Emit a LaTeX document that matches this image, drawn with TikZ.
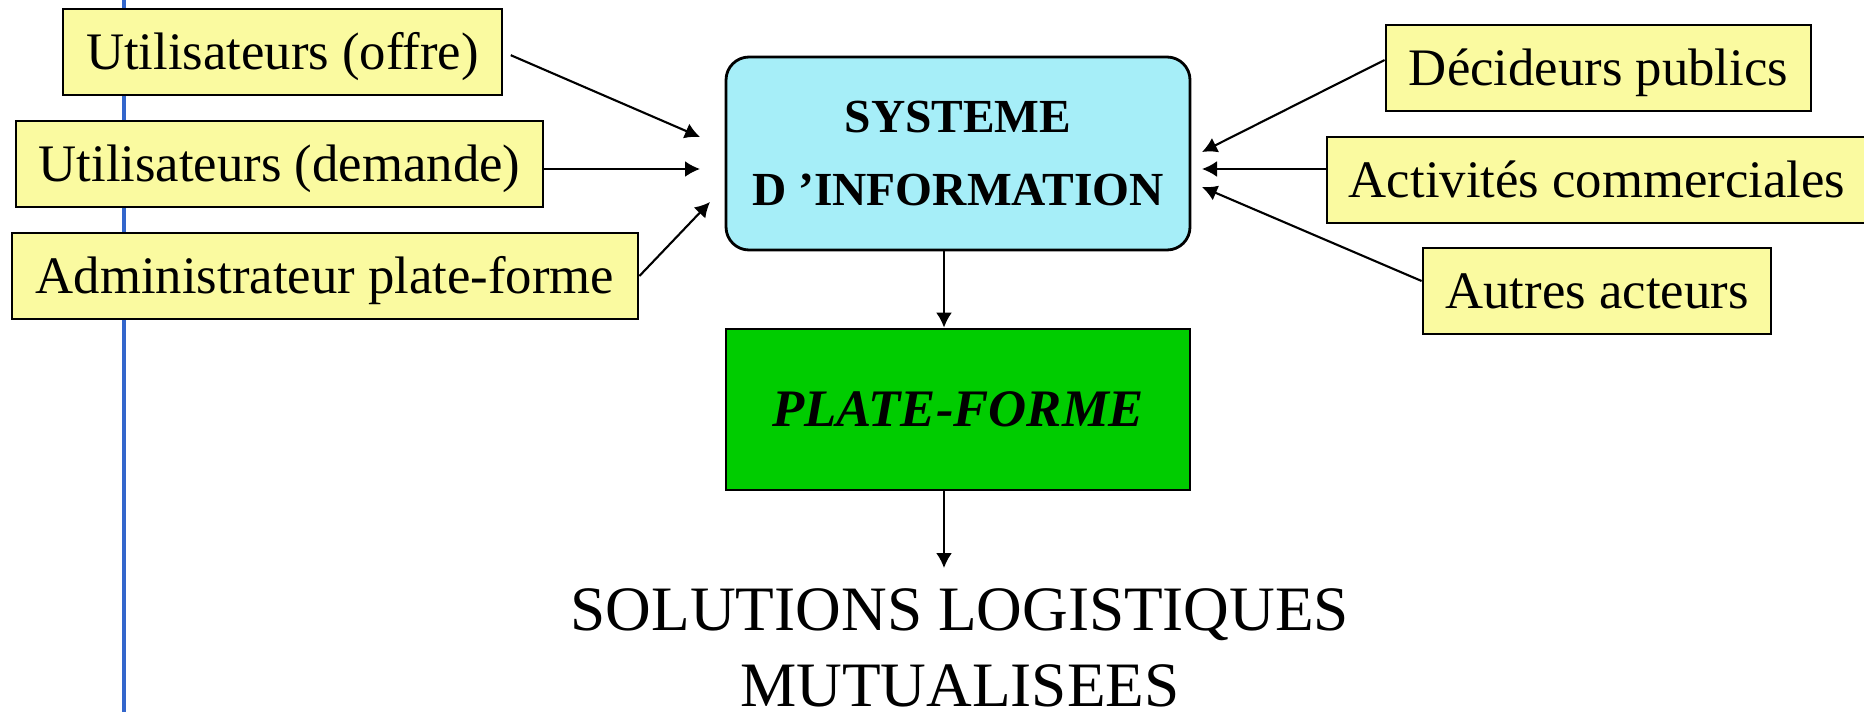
\documentclass[tikz,border=0pt]{standalone}
\usepackage{fontspec}
\setmainfont{Liberation Serif}
\usetikzlibrary{arrows.meta}
\definecolor{boxyellow}{RGB}{250,250,160}
\definecolor{sicyan}{RGB}{166,238,248}
\definecolor{pfgreen}{RGB}{0,204,0}
\definecolor{lineblue}{RGB}{51,102,204}
\tikzset{
  actor/.style={draw, line width=0.8pt, fill=boxyellow, minimum height=8.6mm, inner xsep=0pt,
                text height=10pt, text depth=0pt, font=\fontsize{15}{18}\selectfont},
  flow/.style={-{Latex[length=1.5mm,width=1.6mm]}, line width=0.6pt},
}

\begin{document}
\begin{tikzpicture}[x=0.1mm,y=-0.1mm]
  \useasboundingbox (0,0) rectangle (1864,712);
  \draw[lineblue, line width=1pt] (124,0) -- (124,712);

  \node[actor, minimum width=43.9mm] (U1) at (282.5,52) {Utilisateurs (offre)};
  \node[actor, minimum width=52.7mm] (U2) at (279.5,164) {Utilisateurs (demande)};
  \node[actor, minimum width=62.6mm] (U3) at (325,276) {Administrateur plate-forme};

  \node[actor, minimum width=42.5mm] (R1) at (1598.5,68) {Décideurs publics};
  \node[actor, minimum width=54mm] (R2) at (1597,180) {Activités commerciales};
  \node[actor, minimum width=34.8mm] (R3) at (1597,291) {Autres acteurs};

  \node[draw, line width=0.8pt, fill=sicyan, rounded corners=2.3mm, minimum width=46.4mm, minimum height=19.3mm,
        align=center, font=\fontsize{13.5}{21}\selectfont\bfseries] (SI) at (958,153.5) {SYSTEME\\D 'INFORMATION};
  \node[draw, line width=0.8pt, fill=pfgreen, minimum width=46.4mm, minimum height=16.1mm,
        font=\fontsize{15}{18}\selectfont\bfseries\itshape] (PF) at (958,409.5) {PLATE-FORME};

  \node[align=center, anchor=base, inner sep=0pt, font=\fontsize{18}{21.6}\selectfont] (SOL) at (960,706) {SOLUTIONS LOGISTIQUES\\MUTUALISEES};

  \coordinate (in1) at (700,137);
  \coordinate (in2) at (700,169);
  \coordinate (in3) at (710,202);
  \coordinate (in4) at (1202,152);
  \coordinate (in5) at (1202,169);
  \coordinate (in6) at (1202,187);
  \coordinate (out) at (944,568);

  \draw[flow, shorten <=0.8mm] (U1.east) -- (in1);
  \draw[flow] (U2.east |- in2) -- (in2);
  \draw[flow] (U3.east) -- (in3);
  \draw[flow] ([yshift=0.8mm]R1.west) -- (in4);
  \draw[flow] (R2.west |- in5) -- (in5);
  \draw[flow] ([yshift=1mm]R3.west) -- (in6);
  \draw[flow] (SI.south -| out) -- (PF.north -| out);
  \draw[flow] (PF.south -| out) -- (out);
\end{tikzpicture}
\end{document}
